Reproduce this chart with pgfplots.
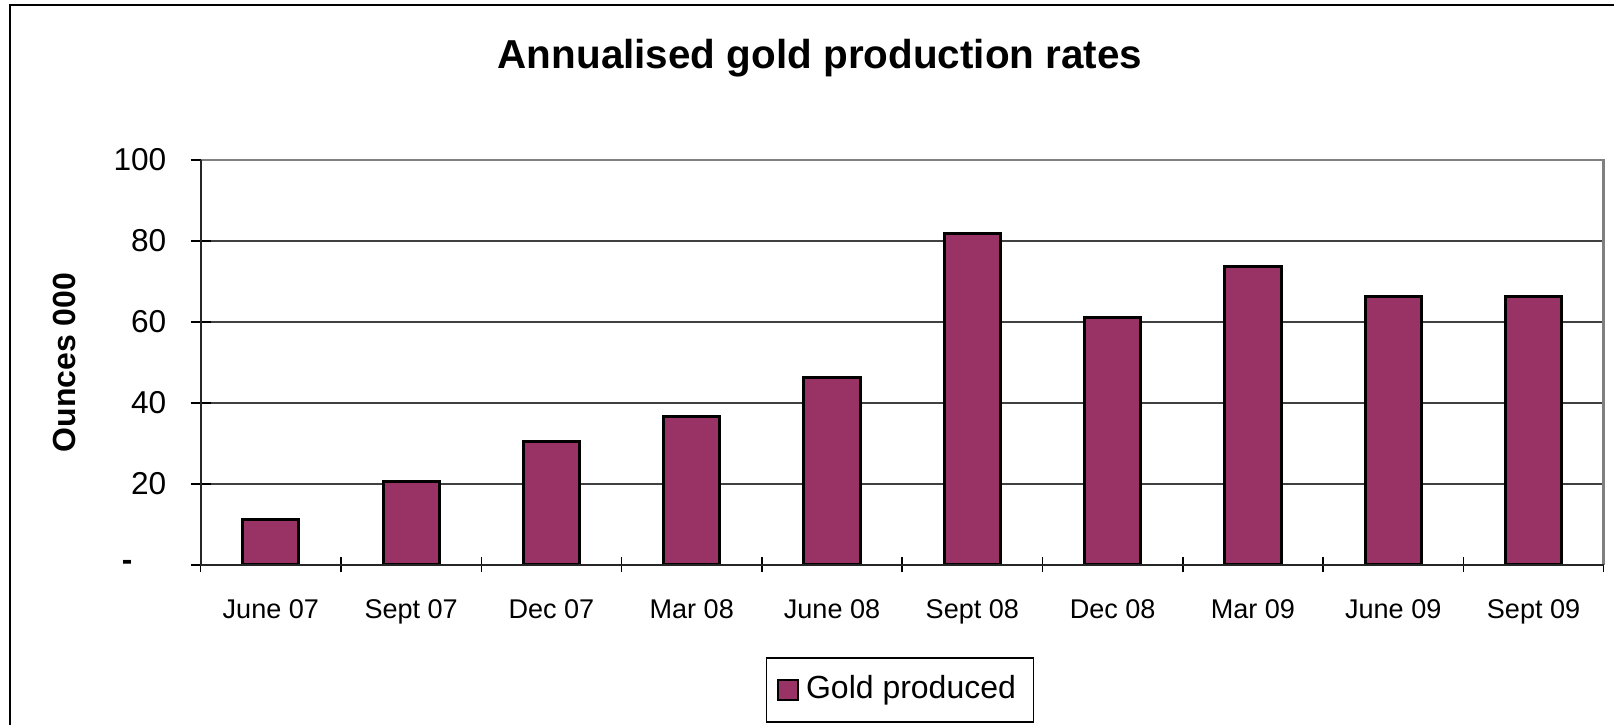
\documentclass[border=0pt]{standalone}
\usepackage{pgfplots}
\pgfplotsset{compat=1.18}
\usepackage{fontspec}
\setmainfont{Liberation Sans}
\definecolor{plum}{HTML}{993366}
\definecolor{framegray}{HTML}{808080}
\begin{document}
\begin{tikzpicture}
\useasboundingbox (0,0) rectangle (16.14cm,7.25cm);
\fill[white] (0,0) rectangle (16.14cm,7.25cm);
\draw[black, line width=0.6pt] (0.10cm,-0.1cm) -- (0.10cm,7.20cm) -- (16.3cm,7.20cm);
\node[font=\fontsize{11.5}{13}\selectfont\bfseries] at (8.20cm,6.67cm) {Annualised gold production rates};
\begin{axis}[
  at={(2.007cm,1.60cm)}, anchor=south west,
  scale only axis, width=14.03cm, height=4.05cm,
  xmin=-0.5, xmax=9.5, ymin=0, ymax=100,
  ybar, bar width=0.4,
  xtick pos=bottom, ytick pos=left,
  xtick={0,...,9},
  xticklabels={June 07,Sept 07,Dec 07,Mar 08,June 08,Sept 08,Dec 08,Mar 09,June 09,Sept 09},
  major x tick style={draw=none},
  minor xtick={-0.5,0.5,...,9.5},
  minor x tick style={black, line width=0.4pt},
  minor tick length=0.15cm,
  x tick label style={font=\fontsize{7.7}{9}\selectfont, yshift=-0.12cm},
  ytick={0,20,40,60,80,100},
  yticklabels={{\textbf{-}\rule{0.34cm}{0pt}},20,40,60,80,100},
  y tick label style={font=\fontsize{9}{10}\selectfont, xshift=-0.12cm},
  y tick style={black, line width=0.4pt},
  major tick length=0.2cm,
  tick align=center,
  /pgf/number format/assume math mode=true,
  ymajorgrids, grid style={black!75, line width=0.3pt},
  axis line style={draw=none},
  ylabel={\bfseries Ounces 000},
  ylabel style={font=\fontsize{9.1}{10}\selectfont, at={(rel axis cs:-0.0969,0.5)}, anchor=center},
  legend style={at={(rel axis cs:0.4984,-0.3086)}, anchor=center,
    draw=black, line width=0.5pt, font=\fontsize{9.1}{10}\selectfont,
    minimum height=0.5cm, inner xsep=3pt, inner ysep=2pt},
  legend image code/.code={\draw[#1, line width=0.6pt] (0cm,-0.1cm) rectangle (0.2cm,0.1cm);},
  clip=false,
]
\addplot[fill=plum, draw=black, line width=0.85pt] coordinates {
(0,11.3) (1,20.6) (2,30.6) (3,36.7) (4,46.2) (5,81.9) (6,61.2) (7,73.7) (8,66.4) (9,66.4)};
\addlegendentry{Gold produced}
\draw[framegray, line width=0.8pt] (rel axis cs:0,1) -- (rel axis cs:1,1) -- (rel axis cs:1,0);
\draw[black!85, line width=0.6pt] (rel axis cs:0,1) -- (rel axis cs:0,0) -- (rel axis cs:1,0);
\end{axis}
\end{tikzpicture}
\end{document}
